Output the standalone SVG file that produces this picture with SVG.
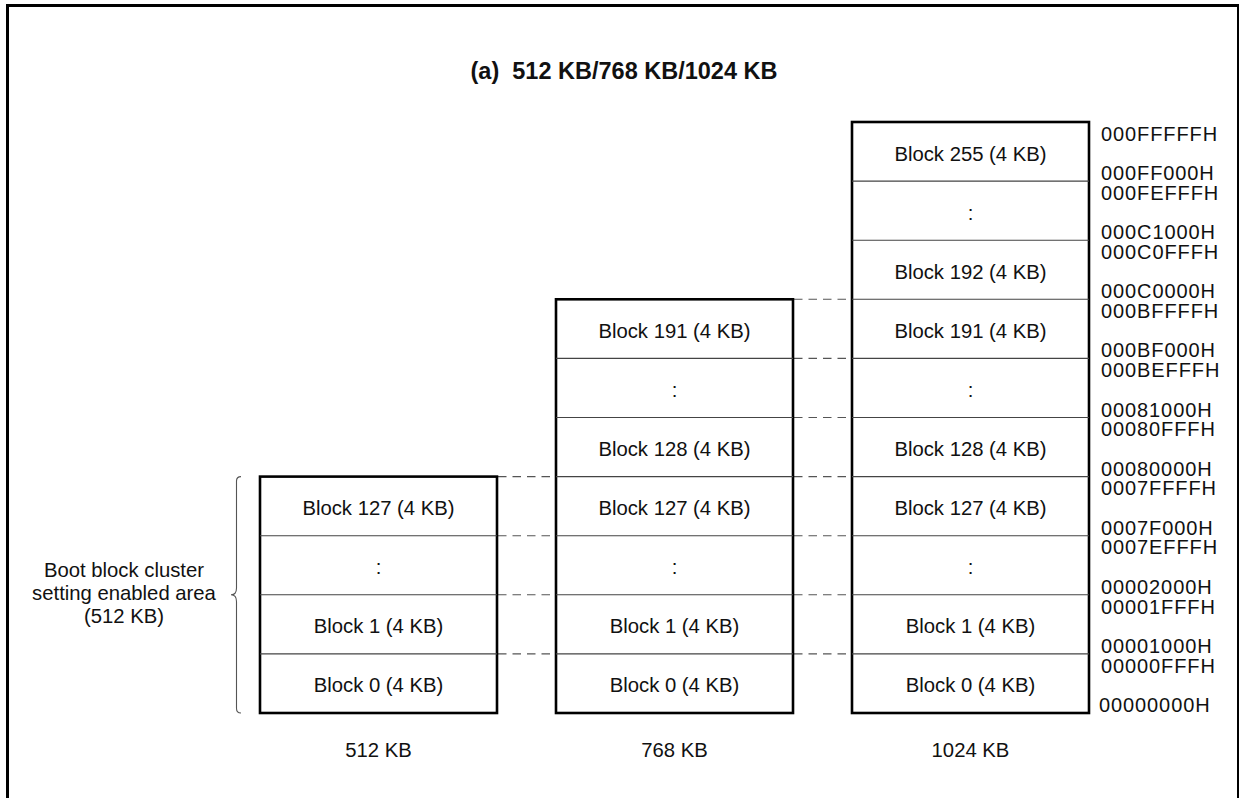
<svg xmlns="http://www.w3.org/2000/svg" width="1242" height="798" viewBox="0 0 1242 798">
<style>
text{font-family:"Liberation Sans",Arial,Helvetica,sans-serif;fill:#111}
.t{font-size:20.3px;text-anchor:middle}
.ttl{font-size:23.5px;font-weight:bold;text-anchor:middle}
.a{font-size:20px;letter-spacing:0.9px}
.box{fill:#fff;stroke:#000;stroke-width:2.6}
.div{stroke:#444;stroke-width:1.1}
.dash{stroke:#555;stroke-width:1.1;stroke-dasharray:8.5 6;fill:none}
.br{stroke:#555;stroke-width:1.1;fill:none}
</style>
<rect width="1242" height="798" fill="#fff"/>
<g id="frame" fill="none" stroke="#000">
<path d="M7.5 798V5.5H1239" stroke-width="3"/>
<path d="M1238 5V798" stroke-width="2"/>
</g>
<text class="ttl" x="624" y="79" xml:space="preserve">(a)  512 KB/768 KB/1024 KB</text>

<g id="connectors">
<path class="dash" d="M498 476.6H556M498 535.7H556M498 594.8H556M498 653.9H556"/>
<path class="dash" d="M794 299.3H852M794 358.4H852M794 417.5H852M794 476.6H852M794 535.7H852M794 594.8H852M794 653.9H852"/>
</g>

<g id="mem512">
<rect class="box" x="260" y="476.6" width="237" height="236.4"/>
<path class="div" d="M260 535.7H497M260 594.8H497M260 653.9H497"/>
<text class="t" x="378.5" y="515.1">Block 127 (4 KB)</text>
<text class="t" x="378.5" y="574.2">:</text>
<text class="t" x="378.5" y="633.3">Block 1 (4 KB)</text>
<text class="t" x="378.5" y="692.4">Block 0 (4 KB)</text>
<text class="t" x="378.5" y="757">512 KB</text>
</g>

<g id="mem768">
<rect class="box" x="556" y="299.3" width="237" height="413.7"/>
<path class="div" d="M556 358.4H793M556 417.5H793M556 476.6H793M556 535.7H793M556 594.8H793M556 653.9H793"/>
<text class="t" x="674.5" y="337.8">Block 191 (4 KB)</text>
<text class="t" x="674.5" y="396.9">:</text>
<text class="t" x="674.5" y="456">Block 128 (4 KB)</text>
<text class="t" x="674.5" y="515.1">Block 127 (4 KB)</text>
<text class="t" x="674.5" y="574.2">:</text>
<text class="t" x="674.5" y="633.3">Block 1 (4 KB)</text>
<text class="t" x="674.5" y="692.4">Block 0 (4 KB)</text>
<text class="t" x="674.5" y="757">768 KB</text>
</g>

<g id="mem1024">
<rect class="box" x="852" y="122" width="237" height="591"/>
<path class="div" d="M852 181.1H1089M852 240.2H1089M852 299.3H1089M852 358.4H1089M852 417.5H1089M852 476.6H1089M852 535.7H1089M852 594.8H1089M852 653.9H1089"/>
<text class="t" x="970.5" y="160.5">Block 255 (4 KB)</text>
<text class="t" x="970.5" y="219.6">:</text>
<text class="t" x="970.5" y="278.7">Block 192 (4 KB)</text>
<text class="t" x="970.5" y="337.8">Block 191 (4 KB)</text>
<text class="t" x="970.5" y="396.9">:</text>
<text class="t" x="970.5" y="456">Block 128 (4 KB)</text>
<text class="t" x="970.5" y="515.1">Block 127 (4 KB)</text>
<text class="t" x="970.5" y="574.2">:</text>
<text class="t" x="970.5" y="633.3">Block 1 (4 KB)</text>
<text class="t" x="970.5" y="692.4">Block 0 (4 KB)</text>
<text class="t" x="970.5" y="757">1024 KB</text>
</g>

<g id="addresses">
<text class="a" x="1101" y="140.7">000FFFFFH</text>
<text class="a" x="1101" y="180.1">000FF000H</text>
<text class="a" x="1101" y="199.8">000FEFFFH</text>
<text class="a" x="1101" y="239.2">000C1000H</text>
<text class="a" x="1101" y="258.9">000C0FFFH</text>
<text class="a" x="1101" y="298.3">000C0000H</text>
<text class="a" x="1101" y="318">000BFFFFH</text>
<text class="a" x="1101" y="357.4">000BF000H</text>
<text class="a" x="1101" y="377.1">000BEFFFH</text>
<text class="a" x="1101" y="416.5">00081000H</text>
<text class="a" x="1101" y="436.2">00080FFFH</text>
<text class="a" x="1101" y="475.6">00080000H</text>
<text class="a" x="1101" y="495.3">0007FFFFH</text>
<text class="a" x="1101" y="534.7">0007F000H</text>
<text class="a" x="1101" y="554.4">0007EFFFH</text>
<text class="a" x="1101" y="593.8">00002000H</text>
<text class="a" x="1101" y="613.5">00001FFFH</text>
<text class="a" x="1101" y="652.9">00001000H</text>
<text class="a" x="1101" y="672.6">00000FFFH</text>
<text class="a" x="1099" y="711.5">00000000H</text>
</g>

<g id="bootarea">
<path class="br" d="M241 476.6Q236.5 476.6 236.5 481V588Q236.5 594.8 231 594.8Q236.5 594.8 236.5 601.6V708.5Q236.5 713 241 713"/>
<text class="t" x="124" y="577">Boot block cluster</text>
<text class="t" x="124" y="600">setting enabled area</text>
<text class="t" x="124" y="622.5">(512 KB)</text>
</g>
</svg>
